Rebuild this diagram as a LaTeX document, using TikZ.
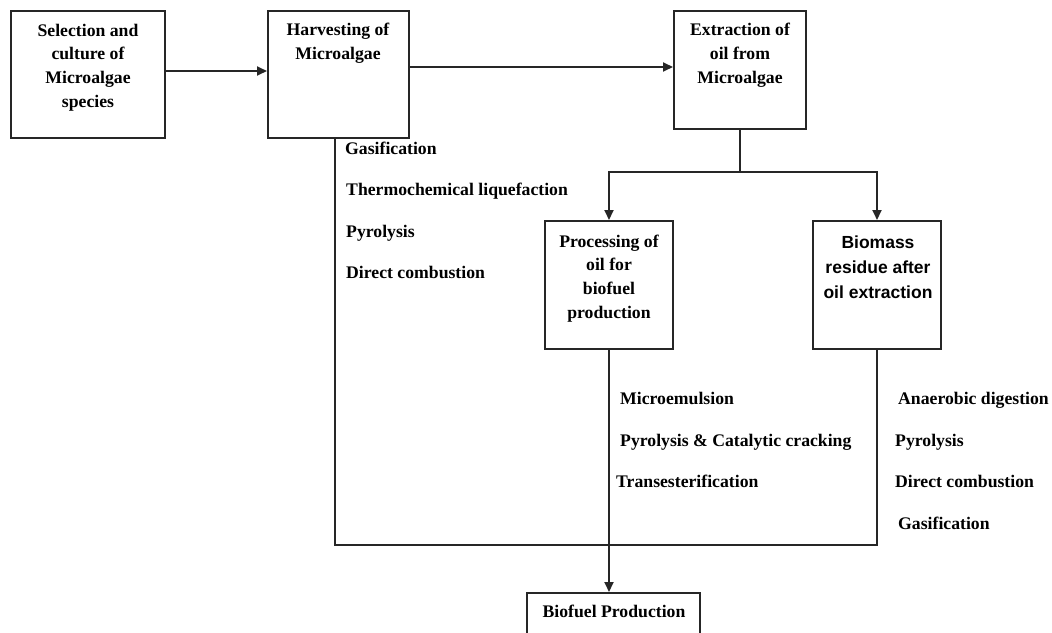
\documentclass[tikz,border=0pt]{standalone}
\usepackage{fontspec}
\setmainfont{Liberation Serif}
\setsansfont{Liberation Sans}
\usetikzlibrary{arrows.meta}
\begin{document}
\begin{tikzpicture}[x=1pt,y=-1pt,
  box/.style={draw=black!85, line width=2pt, minimum width=#1, inner sep=0pt},
  boxtext/.style={align=center, inner sep=0pt, font=\fontsize{17.7}{23.8}\selectfont\bfseries},
  sboxtext/.style={align=center, inner sep=0pt, font=\fontsize{17.5}{25}\selectfont\sffamily\bfseries},
  lab/.style={anchor=mid west, inner sep=0pt, font=\fontsize{17.7}{20}\selectfont\bfseries},
  conn/.style={draw=black!85, line width=1.8pt},
  arr/.style={conn, -{Triangle[length=10pt,width=9pt]}}]
\clip (0,0) rectangle (1052,632);
\fill[white] (0,0) rectangle (1052,632);

\node[box=154pt, minimum height=127pt] (b1) at (88,74.5) {};
\node[box=141pt, minimum height=127pt] (b2) at (338.5,74.5) {};
\node[box=132pt, minimum height=118pt] (b3) at (740,70) {};
\node[box=128pt, minimum height=128pt] (b4) at (609,285) {};
\node[box=128pt, minimum height=128pt] (b5) at (877,285) {};
\node[box=173pt, minimum height=60pt] (b6) at (613.5,623) {};

\node[boxtext] (t1) at (88,67.5) {Selection and\\culture of\\Microalgae\\species};
\node[boxtext] (t2) at (338,43) {Harvesting of\\Microalgae};
\node[boxtext] (t3) at (740,55.5) {Extraction of\\oil from\\Microalgae};
\node[boxtext] (t4) at (609,278.5) {Processing of\\oil for\\biofuel\\production};
\node[sboxtext] (t5) at (878,267) {Biomass\\residue after\\oil extraction};
\node[boxtext] (t6) at (614,611.5) {Biofuel Production};

\node[lab] (h1) at (345,152) {Gasification};
\node[lab] (h2) at (346,193) {Thermochemical liquefaction};
\node[lab] (h3) at (346,235) {Pyrolysis};
\node[lab] (h4) at (346,276) {Direct combustion};

\node[lab] (p1) at (620,402) {Microemulsion};
\node[lab] (p2) at (620,444) {Pyrolysis \& Catalytic cracking};
\node[lab] (p3) at (616,485) {Transesterification};

\node[lab] (r1) at (898,402) {Anaerobic digestion};
\node[lab] (r2) at (895,444) {Pyrolysis};
\node[lab] (r3) at (895,485) {Direct combustion};
\node[lab] (r4) at (898,527) {Gasification};

\coordinate (split) at (740,172);
\coordinate (busL) at (335,545);

\draw[arr] ([yshift=3.5pt]b1.east) -- ([yshift=3.5pt]b1.east -| b2.west);
\draw[arr] ([yshift=7.5pt]b2.east) -- ([yshift=7.5pt]b2.east -| b3.west);
\draw[conn] (b3.south) -- (split);
\draw[arr] (split) -| (b4.north);
\draw[arr] (split) -| (b5.north);
\draw[conn] (b2.south -| busL) -- (busL) -- (busL -| b5.south) -- (b5.south);
\draw[arr] (b4.south) -- (b4.south |- b6.north);
\end{tikzpicture}
\end{document}
